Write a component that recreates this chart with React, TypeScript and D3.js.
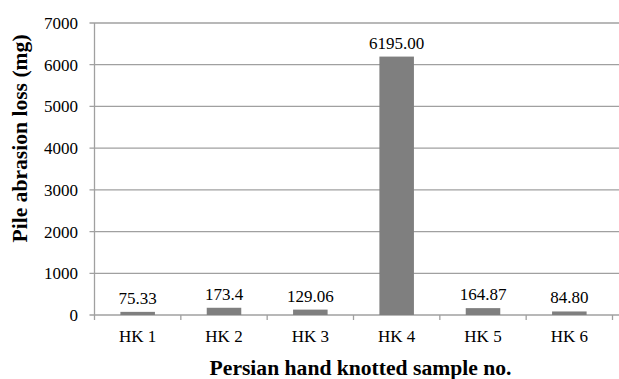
import React from "react";
import * as d3 from "d3";

const categories = ["HK 1", "HK 2", "HK 3", "HK 4", "HK 5", "HK 6"];
const values = [75.33, 173.4, 129.06, 6195.0, 164.87, 84.8];
const valueLabels = ["75.33", "173.4", "129.06", "6195.00", "164.87", "84.80"];
const yTicks = [0, 1000, 2000, 3000, 4000, 5000, 6000, 7000];

const W = 619;
const H = 379;
const left = 94.5;
const right = 612.5;
const top = 23;
const bottom = 315;
const font = "'Liberation Serif', 'Times New Roman', serif";

export default function App() {
  const x = d3.scaleBand<string>().domain(categories).range([left, right]).paddingInner(0.6).paddingOuter(0.3);
  const band = d3.scaleBand<string>().domain(categories).range([left, right]);
  const y = d3.scaleLinear().domain([0, 7000]).range([bottom, top]);
  const grid = "#a0a0a0";
  return (
    <svg width={W} height={H} style={{ position: "absolute", left: 0, top: 0, background: "#fff" }}>
      {yTicks.map((t) => (
        <g key={t}>
          <line x1={left - 5} x2={W} y1={y(t)} y2={y(t)} stroke={grid} strokeWidth={1.3} />
          <text x={78} y={y(t)} dy="0.35em" textAnchor="end" fontFamily={font} fontSize={17} fill="#000">
            {t}
          </text>
        </g>
      ))}
      <line x1={left} x2={left} y1={top} y2={bottom + 5} stroke={grid} strokeWidth={1.3} />
      {categories.map((c) => (
        <line key={"t" + c} x1={(band(c) as number) + band.bandwidth()} x2={(band(c) as number) + band.bandwidth()} y1={bottom} y2={bottom + 5} stroke={grid} strokeWidth={1.3} />
      ))}
      {categories.map((c, i) => (
        <g key={c}>
          <rect x={x(c)} y={y(values[i])} width={x.bandwidth()} height={bottom - y(values[i])} fill="#7f7f7f" />
          <text x={(x(c) as number) + x.bandwidth() / 2} y={y(values[i]) - 8} textAnchor="middle" fontFamily={font} fontSize={17} fill="#000">
            {valueLabels[i]}
          </text>
          <text x={(band(c) as number) + band.bandwidth() / 2} y={342} textAnchor="middle" fontFamily={font} fontSize={17} fill="#000">
            {c}
          </text>
        </g>
      ))}
      <text x={360.5} y={375} textAnchor="middle" fontFamily={font} fontSize={21.6} fontWeight="bold" fill="#000">
        Persian hand knotted sample no.
      </text>
      <text transform="translate(27,138.5) rotate(-90)" textAnchor="middle" fontFamily={font} fontSize={21.6} fontWeight="bold" fill="#000">
        Pile abrasion loss (mg)
      </text>
    </svg>
  );
}
